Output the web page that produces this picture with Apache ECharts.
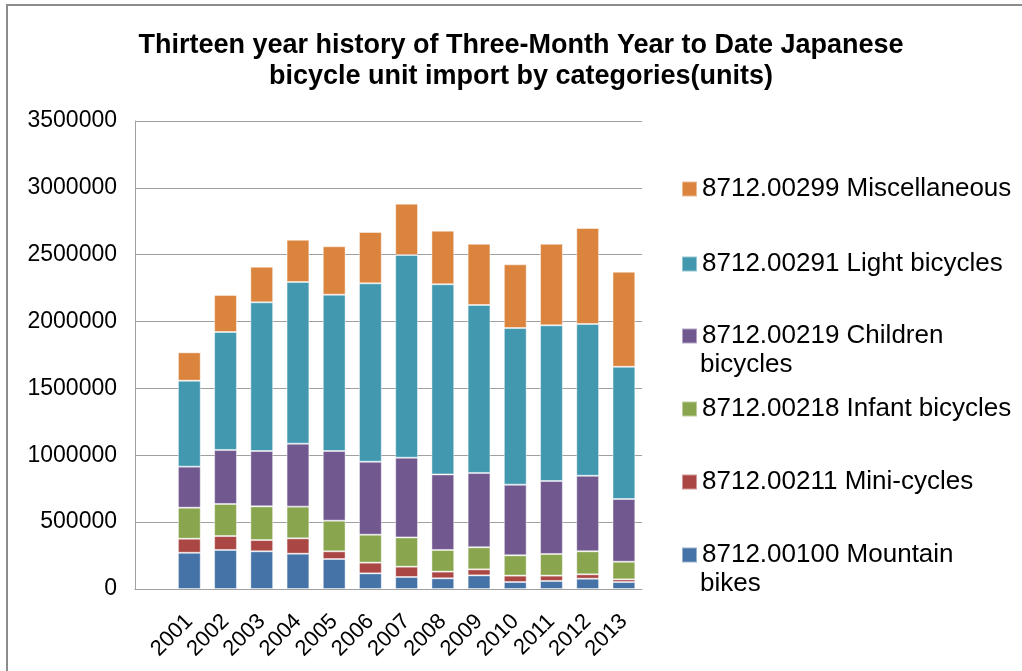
<!DOCTYPE html>
<html>
<head>
<meta charset="utf-8">
<script src="https://cdn.jsdelivr.net/npm/echarts@6/dist/echarts.min.js"></script>
<style>html,body{margin:0;padding:0;background:#fff}#c{width:1022px;height:671px}</style>
</head>
<body>
<div id="c"></div>
<script>
var years = ['2001','2002','2003','2004','2005','2006','2007','2008','2009','2010','2011','2012','2013'];
var mountain = [271000,292000,282000,264000,224000,117000,90000,80000,102000,52000,60000,77000,52000];
var mini = [105000,104000,84000,115000,58000,80000,77000,50000,45000,48000,40000,33000,20000];
var infant = [232000,240000,252000,237000,229000,209000,219000,162000,165000,152000,162000,172000,132000];
var children = [307000,404000,414000,471000,521000,546000,596000,565000,556000,528000,546000,565000,469000];
var light = [643000,882000,1112000,1209000,1169000,1334000,1516000,1422000,1256000,1172000,1164000,1135000,989000];
var misc = [212000,277000,266000,316000,362000,384000,384000,401000,458000,476000,610000,718000,711000];
var yTicks = [0,500000,1000000,1500000,2000000,2500000,3000000,3500000];
var names = ['8712.00100 Mountain bikes','8712.00211 Mini-cycles','8712.00218 Infant bicycles','8712.00219 Children bicycles','8712.00291 Light bicycles','8712.00299 Miscellaneous'];
var colors = ['#4572A7','#AA4643','#89A54E','#71588F','#4198AF','#DB843D'];
var seriesData = [mountain, mini, infant, children, light, misc];

var chart = echarts.init(document.getElementById('c'));
var FONT = "'Liberation Sans', Arial, sans-serif";
var series = seriesData.map(function(d,i){
  return {
    name: names[i], type: 'bar', stack: 'total', barWidth: '63%',
    data: [null].concat(d),
    itemStyle: {color: colors[i], borderColor: 'rgba(255,255,255,0.45)', borderWidth: 1},
    emphasis: {disabled: true}
  };
});
// legend: top-to-bottom Misc .. Mountain
var legendCenters = [189, 264, 336, 409, 482, 555];
var firstLine = {'8712.00219 Children bicycles': ['8712.00219 Children', 'bicycles'], '8712.00100 Mountain bikes': ['8712.00100 Mountain', 'bikes']};
var legends = [];
var graphics = [{type: 'rect', shape: {x: 7, y: 5, width: 1100, height: 800}, style: {fill: 'none', stroke: '#8c8c8c', lineWidth: 2}, silent: true}];
for (var k = 0; k < 6; k++) {
  var nm = names[5 - k];
  legends.push({
    data: [nm], left: 681, top: legendCenters[k] - 15, itemWidth: 15, itemHeight: 15, itemGap: 0, padding: 0,
    icon: 'rect', selectedMode: false,
    formatter: function(n){ return firstLine[n] ? firstLine[n][0] : n; },
    textStyle: {fontFamily: FONT, fontSize: 26, color: '#000', lineHeight: 30, padding: [0, 0, 0, 0]}
  });
  if (firstLine[nm]) {
    graphics.push({type: 'text', left: 700, top: legendCenters[k] + 29 - 15, silent: true,
      style: {text: firstLine[nm][1], font: '26px ' + FONT, fill: '#000', lineHeight: 30}});
  }
}
chart.setOption({
  animation: false,
  title: {
    text: 'Thirteen year history of Three-Month Year to Date Japanese\nbicycle unit import by categories(units)',
    left: 521, top: 30, textAlign: 'center', padding: 0,
    textStyle: {fontFamily: FONT, fontSize: 27, fontWeight: 'bold', color: '#000', lineHeight: 31}
  },
  legend: legends,
  graphic: graphics,
  grid: {left: 135, right: 380, top: 121, bottom: 82, containLabel: false},
  xAxis: {
    type: 'category', data: [''].concat(years), boundaryGap: true,
    axisLine: {lineStyle: {color: '#a0a0a0', width: 1}},
    axisTick: {show: false},
    axisLabel: {rotate: 45, fontFamily: FONT, fontSize: 22, color: '#000', margin: 29, interval: 0}
  },
  yAxis: {
    type: 'value', min: yTicks[0], max: yTicks[yTicks.length-1], interval: 500000,
    axisLine: {show: true, lineStyle: {color: '#a0a0a0', width: 1}},
    axisTick: {show: false},
    splitLine: {lineStyle: {color: '#a0a0a0', width: 1}},
    axisLabel: {fontFamily: FONT, fontSize: 23, color: '#000', margin: 18, formatter: function(v){ return String(v); }}
  },
  series: series
});
</script>
</body>
</html>
